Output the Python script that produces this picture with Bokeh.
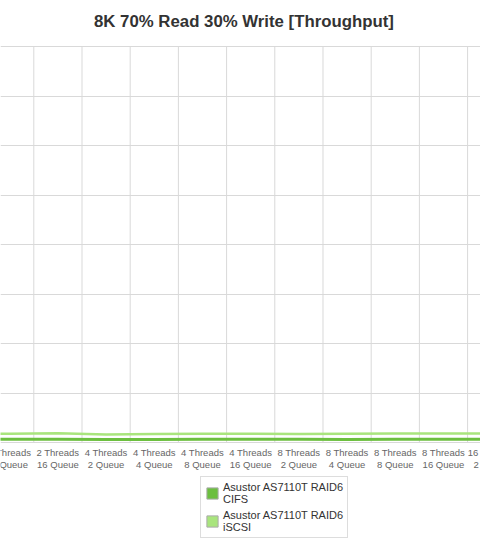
from bokeh.plotting import figure
from bokeh.models import FixedTicker, Label, Legend, LegendItem, Range1d
from bokeh.core.properties import value
from bokeh.embed import file_html
from bokeh.resources import INLINE

# Workload categories (threads x queue depth), in axis order
categories = [
    "2 Threads\n4 Queue",
    "2 Threads\n8 Queue",
    "2 Threads\n16 Queue",
    "4 Threads\n2 Queue",
    "4 Threads\n4 Queue",
    "4 Threads\n8 Queue",
    "4 Threads\n16 Queue",
    "8 Threads\n2 Queue",
    "8 Threads\n4 Queue",
    "8 Threads\n8 Queue",
    "8 Threads\n16 Queue",
    "16 Threads\n2 Queue",
]
# position of the first listed category within the full sweep
first_index = 1

series_names = ["Asustor AS7110T RAID6\nCIFS", "Asustor AS7110T RAID6\niSCSI"]
series_colors = ["#6cbf3f", "#a9e57d"]

cifs = [320, 320, 320, 315, 315, 320, 320, 320, 315, 320, 320, 320]
iscsi = [870, 880, 930, 800, 860, 880, 890, 870, 890, 900, 900, 900]

chart_title = "8K 70% Read 30% Write [Throughput]"

y_ticks = [0, 5000, 10000, 15000, 20000, 25000, 30000, 35000, 40000]
y_max = 40000
# extra room above the grid for the heading and below it for labels and legend
y_top = 44650
y_min = -10200
label_y = -440
title_x, title_y = 6.86, 42500

xs = [first_index + i for i in range(len(categories))]
bounds = [first_index + i - 0.5 for i in range(len(categories) + 1)]

p = figure(
    width=480, height=543,
    output_backend="svg", toolbar_location=None,
    x_range=Range1d(1.809, 11.768), y_range=Range1d(y_min, y_top),
    min_border_left=0, min_border_right=0,
    min_border_top=0, min_border_bottom=0,
)
p.outline_line_color = None
p.background_fill_color = "white"
p.border_fill_color = "white"
p.xaxis.visible = False
p.yaxis.visible = False
p.xgrid.visible = False

p.add_layout(Label(x=title_x, y=title_y, text=chart_title,
                   text_font="Liberation Sans", text_font_style="bold",
                   text_font_size="16.8px", text_color="#333333",
                   text_align="center", text_baseline="middle"))

# horizontal grid from the value ticks, vertical grid on category boundaries
p.ygrid.ticker = FixedTicker(ticks=y_ticks)
p.ygrid.grid_line_color = "#d9d9d9"
p.segment(x0=bounds, x1=bounds, y0=[0] * len(bounds), y1=[y_max] * len(bounds),
          line_color="#d9d9d9", line_width=1)

# category labels under the zero line
p.text(x=xs, y=[label_y] * len(xs), text=categories,
       text_font=value("Liberation Sans"), text_font_size="9.5px",
       text_color="#666666", text_align="center", text_baseline="top",
       text_line_height=1.12)

p.line(xs, iscsi, line_color=series_colors[1], line_width=2.5)
p.line(xs, cifs, line_color=series_colors[0], line_width=3)

# square swatches for the legend (a single NaN row, so nothing is drawn in the plot)
nan = float("nan")
swatches = []
for name, color in zip(series_names, series_colors):
    r = p.quad(left=[nan], right=[nan], top=[nan], bottom=[nan], fill_color=color,
               line_color="#aaaaaa", line_width=1)
    swatches.append(LegendItem(label=name, renderers=[r]))

legend = Legend(items=swatches, location=(200, 5), orientation="vertical")
legend.label_text_font = "Liberation Sans"
legend.label_text_font_size = "11px"
legend.label_text_color = "#333333"
legend.glyph_width = 14
legend.glyph_height = 14
legend.label_standoff = 4
legend.padding = 4
legend.spacing = 4
legend.margin = 0
legend.border_line_color = "#bbbbbb"
legend.border_line_width = 1
p.add_layout(legend, "center")

open("out.html", "w").write(file_html(p, INLINE))
